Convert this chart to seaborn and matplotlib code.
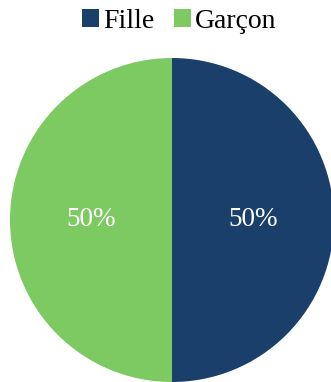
import matplotlib
matplotlib.use("Agg")
import matplotlib.pyplot as plt
import seaborn as sns
from matplotlib.patches import Patch

sns.set_theme(style="white")
plt.rcParams['font.family'] = ['Liberation Serif', 'DejaVu Serif']
plt.rcParams['font.serif'] = ['Liberation Serif', 'DejaVu Serif']
plt.rcParams['text.color'] = 'black'

categories = ["Fille", "Garçon"]
values = [50, 50]
colors = ["#1b3f6b", "#7dc962"]

fig = plt.figure(figsize=(3.31, 3.82), dpi=100)
ax = fig.add_axes([10 / 331, 0.0, 324 / 331, 324 / 382])

wedges, texts, autotexts = ax.pie(
    values, colors=colors, startangle=90, counterclock=False,
    autopct="%d%%", pctdistance=0.5, radius=1.0,
    wedgeprops=dict(linewidth=0),
    textprops=dict(color="white", fontsize=19.5, family="Liberation Serif"),
)
ax.set_xlim(-1, 1)
ax.set_ylim(-1, 1)
ax.set_aspect("equal")
ax.axis("off")

handles = [Patch(facecolor=c, edgecolor="none") for c in colors]
fig.legend(handles, categories, loc="center", bbox_to_anchor=(0.542, 0.944),
           ncol=2, frameon=False, prop=dict(family="Liberation Serif", size=20),
           labelcolor="black", handlelength=0.6, handleheight=0.6,
           handletextpad=0.15, columnspacing=0.7, borderaxespad=0)

fig.savefig("out.png", dpi=100)
